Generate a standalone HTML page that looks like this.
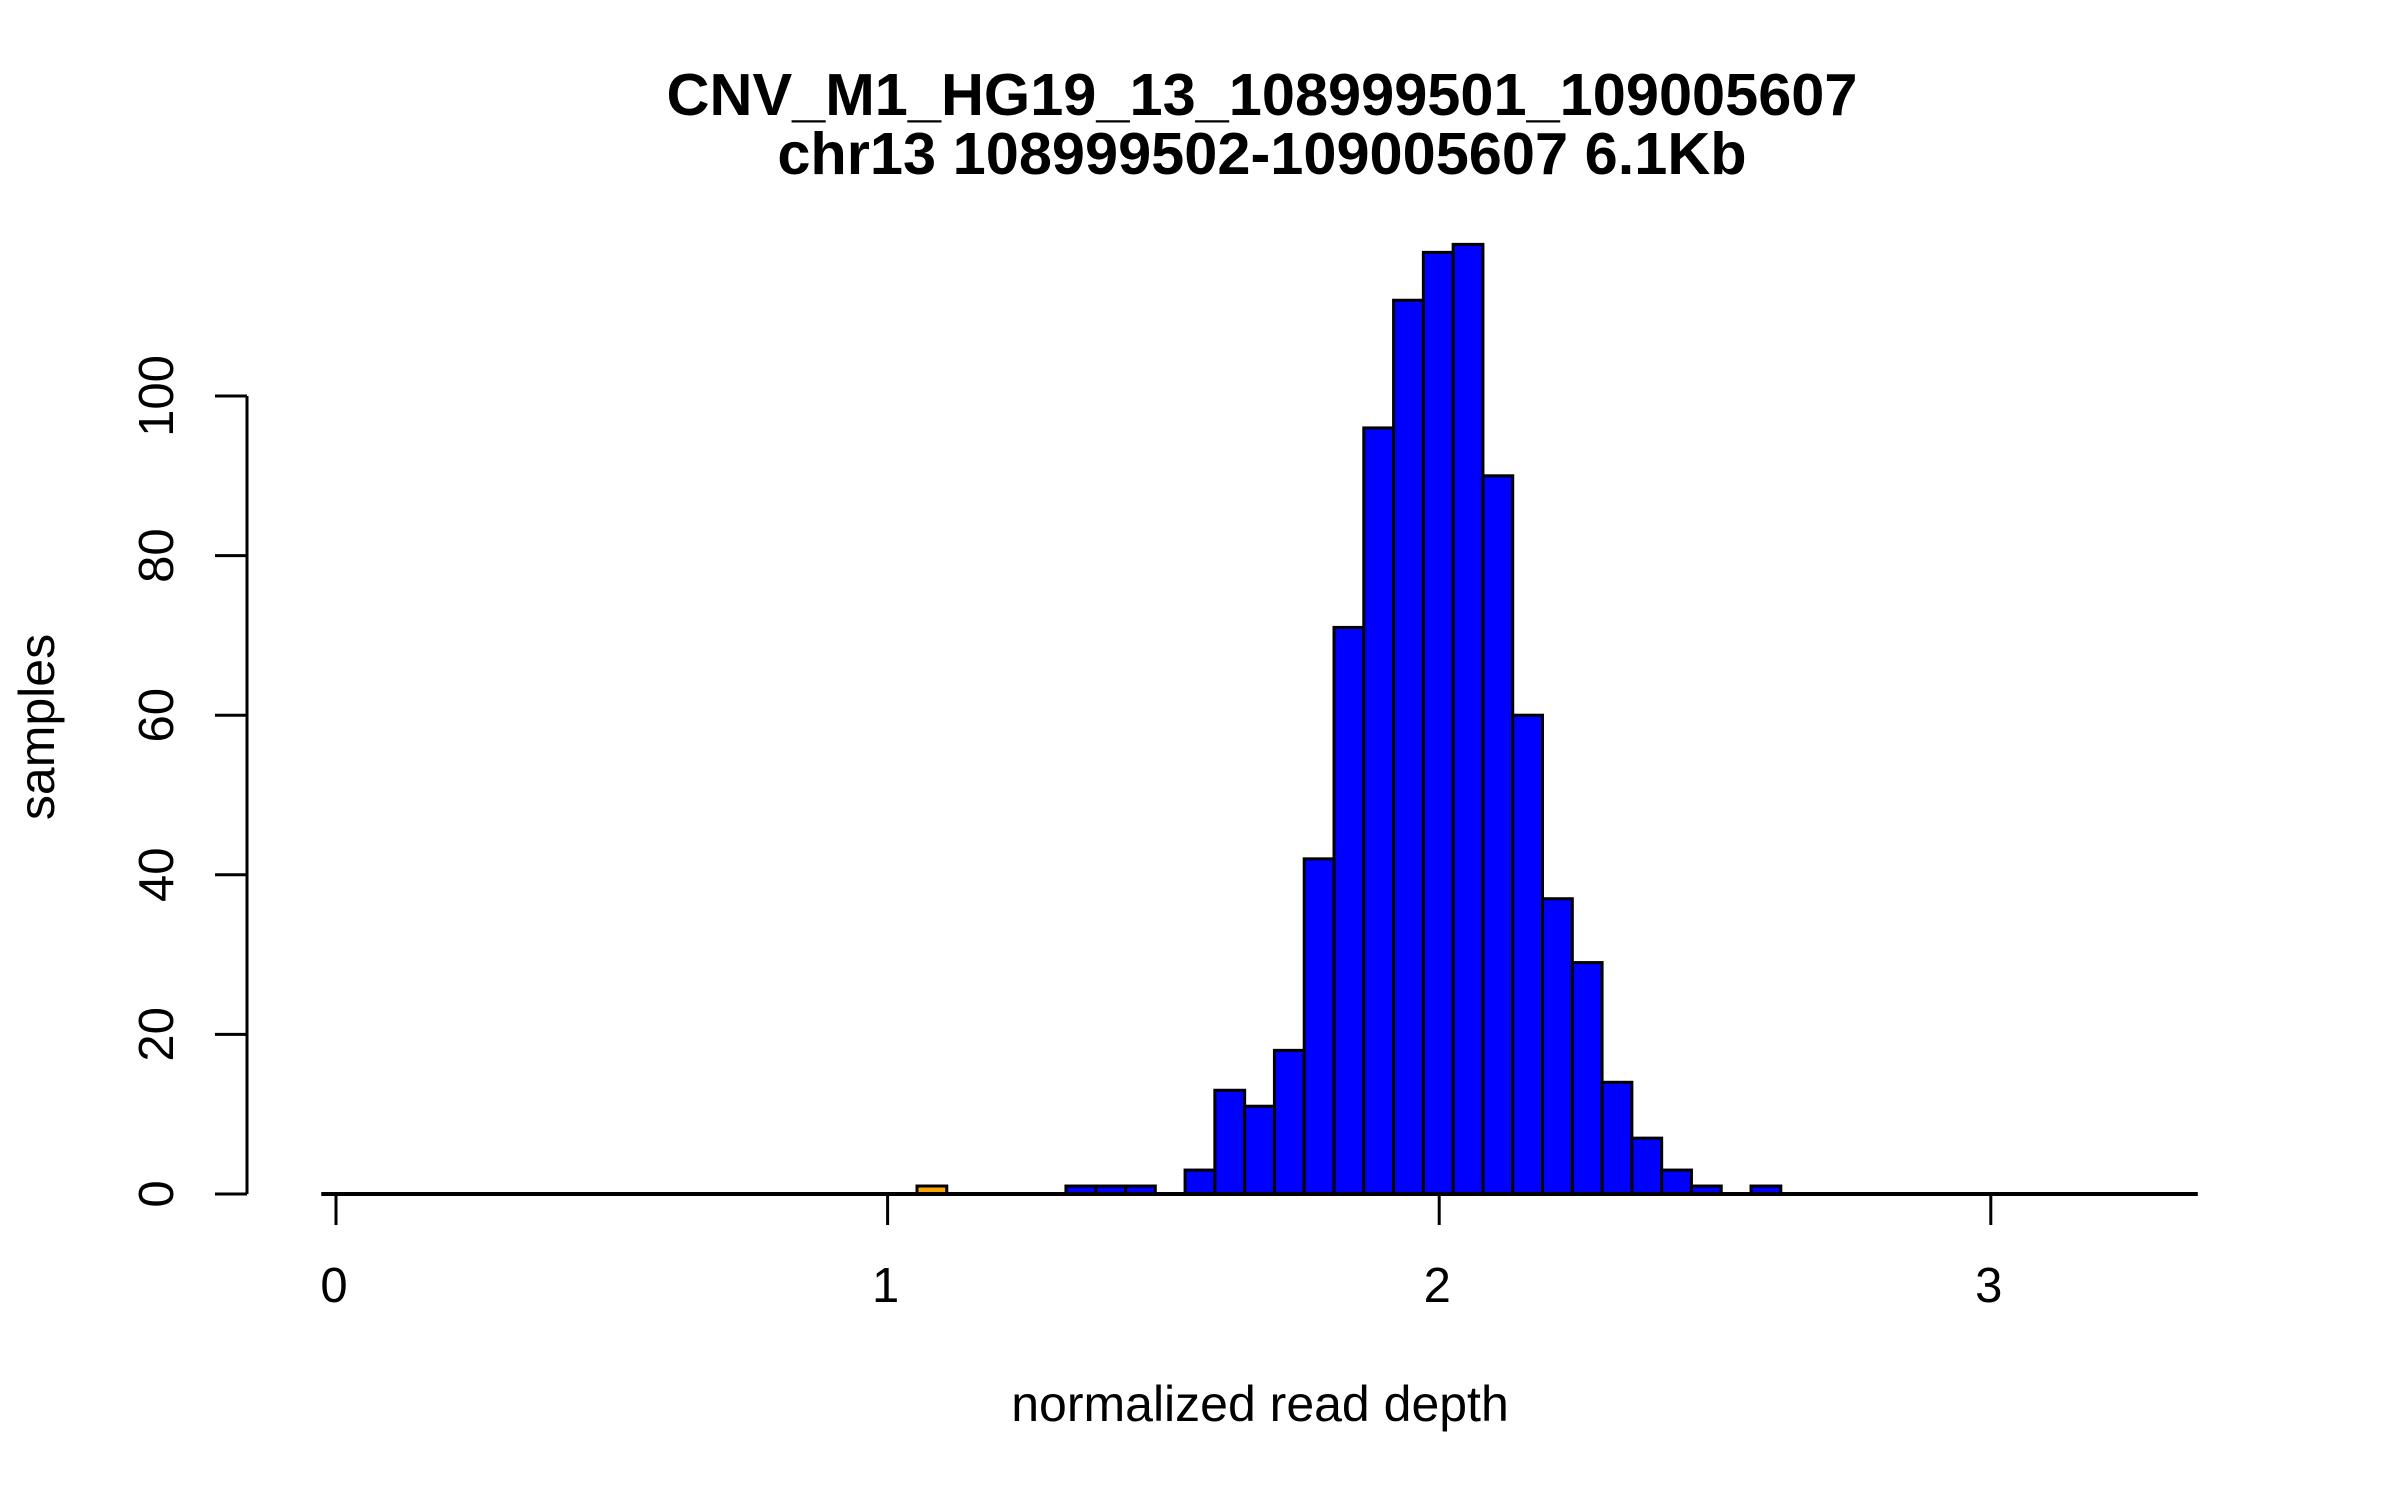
<!DOCTYPE html>
<html><head><meta charset="utf-8"><style>
html,body{margin:0;padding:0;background:#fff;}
svg{display:block;font-family:"Liberation Sans",sans-serif;}
</style></head><body>
<svg id="chart" width="2400" height="1500" viewBox="0 0 2400 1500" xmlns="http://www.w3.org/2000/svg">
<rect width="2400" height="1500" fill="#fff"/>
<text x="1262" y="115" text-anchor="middle" font-size="59.5" font-weight="bold">CNV_M1_HG19_13_108999501_109005607</text>
<text x="1262" y="174" text-anchor="middle" font-size="59.5" font-weight="bold">chr13 108999502-109005607 6.1Kb</text>
<text x="1260" y="1421" text-anchor="middle" font-size="50">normalized read depth</text>
<text transform="translate(54,727) rotate(-90)" text-anchor="middle" font-size="50">samples</text>
<g id="bars"></g>
<g id="xaxis"></g>
<g id="yaxis"></g>
</svg>
<script>
const binStart = -0.0267;
const binWidth = 0.054;
const counts = [0,0,0,0,0,0,0,0,0,0,0,0,0,0,0,0,0,0,0,0,1,0,0,0,0,1,1,1,0,3,13,11,18,42,71,96,112,118,119,90,60,37,29,14,7,3,1,0,1,0,0,0,0,0,0,0,0,0,0,0,0,0,0];
const highlightBins = [20];
const xTicks = [0,1,2,3];
const yTicks = [0,20,40,60,80,100];

const NS = "http://www.w3.org/2000/svg";
function xs(v){ return 336 + v*551.6; }
function ys(v){ return 1194 - v*7.98; }
function mk(tag, attrs, parent){
  const e = document.createElementNS(NS, tag);
  for (const k in attrs) e.setAttribute(k, attrs[k]);
  parent.appendChild(e);
  return e;
}
const bars = document.getElementById('bars');
counts.forEach((c,i)=>{
  const x0 = xs(binStart + i*binWidth), x1 = xs(binStart + (i+1)*binWidth);
  const r = mk('rect',{x:x0,y:ys(c),width:x1-x0,height:ys(0)-ys(c),
    fill: highlightBins.includes(i) ? '#FFA500' : '#0000FF',
    stroke:'#000','stroke-width':3}, bars);
  
  
});
const xa = document.getElementById('xaxis');
const bl = mk('line',{x1:xs(binStart),x2:xs(binStart+counts.length*binWidth),y1:ys(0),y2:ys(0),stroke:'#000','stroke-width':4},xa);


xTicks.forEach(t=>{
  const l = mk('line',{x1:xs(t),x2:xs(t),y1:1194,y2:1225,stroke:'#000','stroke-width':3},xa);
  
  
  const tx = mk('text',{x:xs(t)-2,y:1302,'text-anchor':'middle','font-size':49},xa);
  tx.textContent = t;
  
  
});
const ya = document.getElementById('yaxis');
const al = mk('line',{x1:247,x2:247,y1:ys(yTicks[yTicks.length-1]),y2:ys(0),stroke:'#000','stroke-width':3},ya);


yTicks.forEach(t=>{
  const l = mk('line',{x1:215,x2:247,y1:ys(t),y2:ys(t),stroke:'#000','stroke-width':3},ya);
  
  
  const tx = mk('text',{transform:'translate(173,'+ys(t)+') rotate(-90)','text-anchor':'middle','font-size':49},ya);
  tx.textContent = t;
  
  
});
</script>
</body></html>
